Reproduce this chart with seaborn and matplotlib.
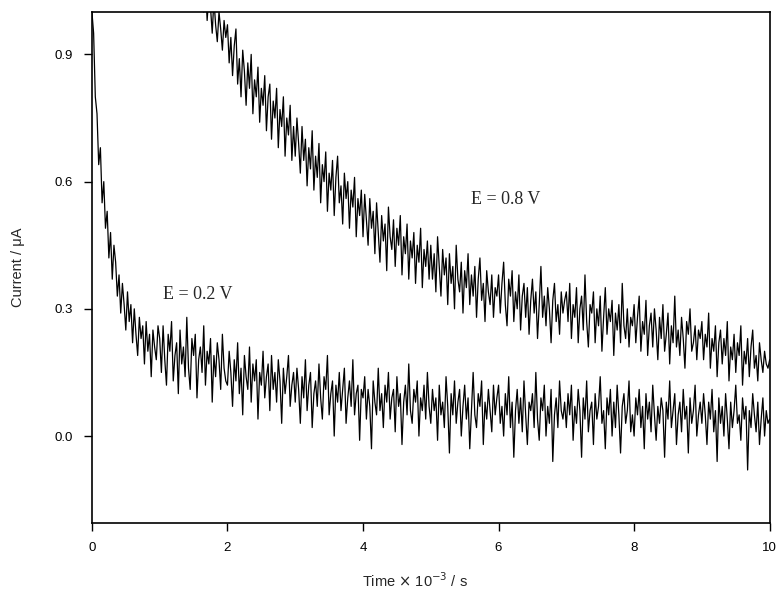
import numpy as np
import pandas as pd
import matplotlib
matplotlib.use('Agg')
import matplotlib.pyplot as plt
import seaborn as sns

# current traces, one value every 0.025 (x 10^-3 s)
time_low = np.round(np.arange(0, 10.001, 0.025), 3)
current_low = [
    1.00, 0.95, 0.80, 0.76, 0.64, 0.68, 0.55, 0.60, 0.49, 0.53, 0.42, 0.48, 0.37, 0.45, 0.41, 0.33, 0.38, 0.29, 0.36, 0.31,
    0.25, 0.34, 0.27, 0.31, 0.22, 0.30, 0.24, 0.19, 0.28, 0.23, 0.26, 0.17, 0.27, 0.20, 0.24, 0.14, 0.25, 0.21, 0.18, 0.26,
    0.23, 0.15, 0.26, 0.18, 0.12, 0.24, 0.20, 0.27, 0.13, 0.19, 0.22, 0.10, 0.25, 0.17, 0.21, 0.14, 0.28, 0.16, 0.11, 0.23,
    0.19, 0.24, 0.09, 0.18, 0.21, 0.15, 0.26, 0.12, 0.20, 0.17, 0.23, 0.08, 0.19, 0.14, 0.22, 0.18, 0.11, 0.24, 0.16, 0.13,
    0.12, 0.20, 0.15, 0.07, 0.18, 0.13, 0.22, 0.10, 0.16, 0.05, 0.19, 0.14, 0.11, 0.21, 0.08, 0.17, 0.13, 0.18, 0.04, 0.15,
    0.12, 0.20, 0.09, 0.14, 0.17, 0.06, 0.19, 0.11, 0.15, 0.08, 0.18, 0.13, 0.03, 0.16, 0.10, 0.14, 0.19, 0.07, 0.12, 0.15,
    0.08, 0.16, 0.11, 0.03, 0.14, 0.09, 0.18, 0.06, 0.12, 0.15, 0.02, 0.10, 0.13, 0.07, 0.17, 0.09, 0.04, 0.14, 0.11, 0.19,
    0.05, 0.10, 0.13, 0.00, 0.12, 0.08, 0.15, 0.06, 0.11, 0.16, 0.03, 0.09, 0.13, 0.07, 0.18, 0.05, 0.10, 0.12, -0.01, 0.11,
    0.09, 0.14, 0.04, 0.11, 0.07, -0.03, 0.13, 0.08, 0.05, 0.16, 0.06, 0.10, 0.02, 0.12, 0.08, 0.15, 0.04, 0.09, 0.11, 0.01,
    0.14, 0.07, 0.10, -0.02, 0.08, 0.12, 0.05, 0.17, 0.06, 0.03, 0.11, 0.08, 0.13, 0.00, 0.09, 0.06, 0.12, 0.04, 0.15, 0.07,
    0.03, 0.11, 0.06, 0.09, -0.01, 0.12, 0.05, 0.08, 0.02, 0.14, 0.07, -0.04, 0.10, 0.05, 0.13, 0.03, 0.08, 0.11, 0.00, 0.07,
    0.12, 0.04, 0.09, -0.03, 0.06, 0.15, 0.05, 0.02, 0.10, 0.07, 0.13, -0.02, 0.08, 0.04, 0.11, 0.06, 0.01, 0.12, 0.05, 0.09,
    0.12, 0.03, 0.07, 0.00, 0.10, 0.05, 0.14, 0.02, 0.08, -0.05, 0.06, 0.11, 0.03, 0.09, 0.01, 0.13, 0.05, -0.02, 0.08, 0.06,
    0.10, 0.02, 0.15, 0.04, -0.01, 0.09, 0.06, 0.12, 0.00, 0.07, 0.03, 0.11, -0.06, 0.05, 0.09, 0.02, 0.13, 0.06, 0.04, 0.08,
    0.02, 0.10, 0.05, 0.12, -0.01, 0.07, 0.03, 0.11, 0.06, -0.05, 0.09, 0.04, 0.13, 0.01, 0.06, 0.08, -0.02, 0.10, 0.04, 0.07,
    0.14, 0.03, 0.06, -0.03, 0.09, 0.05, 0.11, 0.00, 0.08, 0.02, 0.12, 0.05, -0.04, 0.07, 0.10, 0.03, 0.06, 0.13, 0.01, 0.05,
    0.00, 0.09, 0.05, 0.11, 0.02, 0.07, -0.03, 0.10, 0.04, 0.08, 0.01, 0.12, 0.05, -0.01, 0.07, 0.03, 0.09, 0.06, -0.05, 0.08,
    0.04, 0.13, 0.02, 0.06, 0.10, -0.02, 0.05, 0.08, 0.01, 0.11, 0.04, 0.07, -0.04, 0.09, 0.03, 0.06, 0.12, 0.00, 0.05, 0.08,
    0.03, 0.10, 0.05, -0.02, 0.08, 0.04, 0.11, 0.01, 0.06, -0.06, 0.09, 0.03, 0.07, 0.00, 0.10, 0.04, -0.03, 0.08, 0.02, 0.06,
    0.12, 0.03, 0.05, -0.01, 0.09, 0.04, 0.07, -0.08, 0.06, 0.02, 0.10, 0.05, 0.01, 0.08, -0.02, 0.04, 0.09, 0.00, 0.06, 0.03,
    0.04,
]

time_high = np.round(np.arange(1.5, 10.001, 0.025), 3)
current_high = [
    1.14, 1.08, 1.12, 1.03, 1.09, 1.05, 1.00, 1.07, 0.98, 1.04, 1.01, 0.95, 1.03, 0.97, 0.93, 1.00, 0.96, 0.91, 0.98, 0.94,
    0.97, 0.88, 0.94, 0.85, 0.92, 0.96, 0.83, 0.89, 0.80, 0.91, 0.86, 0.78, 0.88, 0.82, 0.90, 0.76, 0.84, 0.80, 0.87, 0.74,
    0.82, 0.78, 0.85, 0.72, 0.80, 0.83, 0.70, 0.79, 0.75, 0.82, 0.68, 0.77, 0.73, 0.80, 0.66, 0.75, 0.71, 0.78, 0.65, 0.73,
    0.66, 0.75, 0.69, 0.62, 0.73, 0.65, 0.70, 0.59, 0.68, 0.63, 0.72, 0.58, 0.66, 0.61, 0.69, 0.55, 0.64, 0.60, 0.67, 0.53,
    0.62, 0.58, 0.65, 0.52, 0.61, 0.66, 0.55, 0.59, 0.50, 0.62, 0.56, 0.60, 0.49, 0.58, 0.54, 0.61, 0.47, 0.56, 0.52, 0.58,
    0.47, 0.57, 0.51, 0.45, 0.56, 0.49, 0.53, 0.43, 0.55, 0.48, 0.41, 0.52, 0.46, 0.50, 0.39, 0.54, 0.47, 0.44, 0.51, 0.40,
    0.49, 0.45, 0.52, 0.38, 0.47, 0.43, 0.50, 0.37, 0.46, 0.42, 0.48, 0.36, 0.45, 0.41, 0.49, 0.35, 0.44, 0.40, 0.46, 0.37,
    0.45, 0.37, 0.43, 0.34, 0.47, 0.40, 0.33, 0.44, 0.38, 0.42, 0.31, 0.43, 0.36, 0.40, 0.30, 0.45, 0.37, 0.34, 0.41, 0.29,
    0.39, 0.35, 0.43, 0.31, 0.38, 0.33, 0.40, 0.28, 0.37, 0.42, 0.32, 0.36, 0.27, 0.39, 0.34, 0.31, 0.38, 0.28, 0.35, 0.33,
    0.38, 0.29, 0.36, 0.41, 0.31, 0.26, 0.37, 0.33, 0.39, 0.27, 0.34, 0.30, 0.38, 0.25, 0.33, 0.36, 0.28, 0.35, 0.24, 0.32,
    0.37, 0.29, 0.34, 0.23, 0.31, 0.40, 0.28, 0.33, 0.26, 0.35, 0.30, 0.22, 0.32, 0.36, 0.27, 0.31, 0.24, 0.34, 0.29, 0.32,
    0.34, 0.27, 0.36, 0.23, 0.31, 0.28, 0.35, 0.22, 0.30, 0.33, 0.25, 0.38, 0.27, 0.21, 0.31, 0.29, 0.34, 0.22, 0.30, 0.26,
    0.33, 0.20, 0.28, 0.35, 0.24, 0.30, 0.27, 0.32, 0.19, 0.29, 0.25, 0.31, 0.22, 0.36, 0.26, 0.23, 0.30, 0.21, 0.28, 0.26,
    0.31, 0.22, 0.28, 0.33, 0.20, 0.27, 0.24, 0.32, 0.19, 0.26, 0.29, 0.21, 0.30, 0.25, 0.18, 0.28, 0.23, 0.31, 0.20, 0.24,
    0.29, 0.17, 0.26, 0.22, 0.33, 0.21, 0.25, 0.19, 0.28, 0.23, 0.16, 0.27, 0.24, 0.30, 0.20, 0.22, 0.26, 0.18, 0.25, 0.23,
    0.27, 0.18, 0.24, 0.21, 0.29, 0.16, 0.23, 0.20, 0.26, 0.14, 0.22, 0.25, 0.17, 0.23, 0.19, 0.27, 0.13, 0.21, 0.18, 0.24,
    0.15, 0.22, 0.19, 0.26, 0.12, 0.20, 0.17, 0.23, 0.14, 0.21, 0.25, 0.16, 0.19, 0.13, 0.22, 0.18, 0.15, 0.20, 0.17, 0.16,
    0.18,
]

x_ticks = [0, 2, 4, 6, 8, 10]
y_ticks = [0.0, 0.3, 0.6, 0.9]

assert len(time_low) == len(current_low), (len(time_low), len(current_low))
assert len(time_high) == len(current_high), (len(time_high), len(current_high))

sns.set_theme(style='ticks')
plt.rcParams['font.family'] = ['Liberation Sans', 'DejaVu Sans']

df_low = pd.DataFrame({'t': time_low, 'i': current_low})
df_high = pd.DataFrame({'t': time_high, 'i': current_high})

fig = plt.figure(figsize=(7.79, 6.03), dpi=100)
ax = fig.add_axes([0.118, 0.1327, 0.870, 0.8474])

sns.lineplot(data=df_low, x='t', y='i', ax=ax, color='black', linewidth=0.9,
             estimator=None, sort=False)
sns.lineplot(data=df_high, x='t', y='i', ax=ax, color='black', linewidth=0.9,
             estimator=None, sort=False)

ax.set_xlim(0, 10)
ax.set_ylim(-0.205, 1.0)
ax.set_xticks(x_ticks)
ax.set_yticks(y_ticks)
ax.set_yticklabels([f'{v:.1f}' for v in y_ticks])
ax.tick_params(direction='out', length=6, width=1, pad=8, labelsize=9.5, colors='black')
for s in ax.spines.values():
    s.set_visible(True)
    s.set_color('black')
    s.set_linewidth(1.2)

ax.set_xlabel('Time $\\times$ 10$^{-3}$ / s', fontsize=10.5)
ax.xaxis.label.set_va('center')
ax.xaxis.set_label_coords(0.476, -0.112)
ax.set_ylabel('Current / \u03bcA', fontsize=10.5)
ax.yaxis.label.set_va('center')
ax.yaxis.set_label_coords(-0.109, 0.5)

ax.text(1.05, 0.333, 'E = 0.2 V', family='Liberation Serif', fontsize=13,
        va='center', ha='left')
ax.text(5.6, 0.558, 'E = 0.8 V', family='Liberation Serif', fontsize=13,
        va='center', ha='left')

fig.savefig('out.png', dpi=100)
